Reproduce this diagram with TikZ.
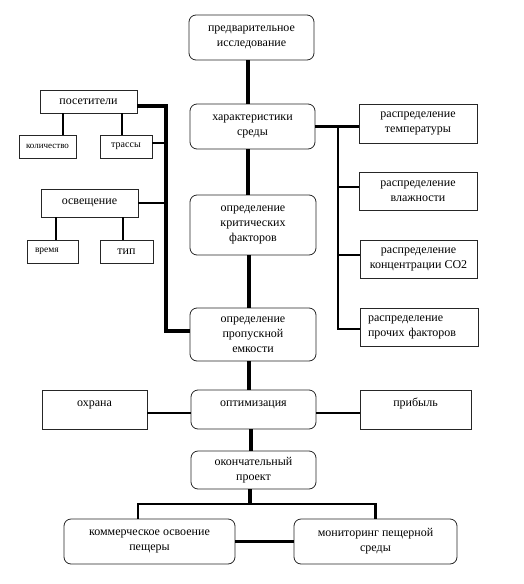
\documentclass[tikz,border=0pt]{standalone}
\usepackage{fontspec}
\setmainfont{Liberation Serif}
\begin{document}
\begin{tikzpicture}[x=1pt,y=-1pt,
  box/.style={draw=black!85,line width=0.8pt,inner sep=0pt,align=center,font=\fontsize{12}{15}\selectfont},
  rbox/.style={box,rounded corners=7pt},
  sbox/.style={box},
  uptext/.style={text height=8pt,text depth=14pt},
  thin/.style={line width=2pt},
  med/.style={line width=2.8pt},
  thick/.style={line width=4pt}]
\useasboundingbox (0,0) rectangle (524,584);
% central column
\node[rbox,minimum width=125pt,minimum height=45pt] (pre) at (251.5,37.5) {предварительное\\исследование};
\node[rbox,minimum width=125pt,minimum height=45pt] (har) at (252.5,126.5) {характеристики\\среды};
\node[rbox,minimum width=126pt,minimum height=60pt] (krit) at (253,225) {определение\\критических\\факторов};
\node[rbox,minimum width=126pt,minimum height=53pt] (prop) at (253,334.5) {определение\\пропускной\\емкости};
\node[rbox,uptext,minimum width=125pt,minimum height=39pt] (opt) at (253.5,409.5) {оптимизация};
\node[rbox,minimum width=125pt,minimum height=38pt] (okon) at (253.5,470) {окончательный\\проект};
\node[rbox,minimum width=171pt,minimum height=45pt] (kom) at (149.5,541.5) {коммерческое освоение\\пещеры};
\node[rbox,minimum width=163pt,minimum height=45pt] (mon) at (375.5,541.5) {мониторинг пещерной\\среды};
\node[sbox,uptext,minimum width=105pt,minimum height=39pt] (ohr) at (94.5,409.5) {охрана};
\node[sbox,uptext,minimum width=111pt,minimum height=39pt] (prib) at (415.5,409.5) {прибыль};
% left group
\node[sbox,minimum width=97pt,minimum height=23pt] (pos) at (88.5,101.5) {посетители};
\node[sbox,minimum width=57pt,minimum height=23pt,font=\fontsize{9}{11}\selectfont] (kol) at (47.5,146.5) {количество};
\node[sbox,minimum width=52pt,minimum height=23pt,font=\fontsize{10}{12}\selectfont] (tras) at (126,146.5) {трассы};
\node[sbox,minimum width=97pt,minimum height=28pt] (osv) at (89.5,203) {освещение};
\node[sbox,minimum width=51pt,minimum height=23pt,text width=35pt,inner xsep=8pt,align=left,font=\fontsize{9.5}{11}\selectfont] (vrem) at (52.5,251.5) {время};
\node[sbox,minimum width=53pt,minimum height=23pt] (tip) at (126.5,251.5) {тип};
% right group
\node[sbox,minimum width=118pt,minimum height=39pt] (r1) at (418,123.5) {распределение\\температуры};
\node[sbox,minimum width=118pt,minimum height=38pt] (r2) at (418,191) {распределение\\влажности};
\node[sbox,minimum width=117pt,minimum height=38pt] (r3) at (418.5,259) {распределение\\концентрации СО2};
\node[sbox,minimum width=118pt,minimum height=38pt,text width=102pt,inner xsep=8pt,align=left] (r4) at (419,327) {распределение\\прочих факторов};
% coordinates of buses
\coordinate (lt) at (166,106);
\coordinate (lb) at (166,331);
\coordinate (rt) at (338,127);
\coordinate (rb) at (338,329);
\coordinate (bb) at (250,504);
% spine
\draw[thick] ([xshift=-3.5pt]pre.south) -- ([xshift=-3.5pt]pre.south |- har.north);
\draw[thick] ([xshift=-4.5pt]har.south) -- ([xshift=-4.5pt]har.south |- krit.north);
\draw[thick] ([xshift=-4pt]krit.south) -- ([xshift=-4pt]krit.south |- prop.north);
\draw[thick] ([xshift=-4pt]prop.south) -- ([xshift=-4pt]prop.south |- opt.north);
\draw[thick] ([xshift=-2.5pt]opt.south) -- ([xshift=-2.5pt]opt.south |- okon.north);
\draw[thick] ([xshift=-3.5pt]okon.south) -- ([xshift=-3.5pt]okon.south |- bb);
% left bus
\draw[thick] ([yshift=-4.5pt]pos.east) -- (lt) -- (lb) -- ([yshift=3.5pt]prop.west);
\draw[thin] ([yshift=3.5pt]tras.east) -- ([yshift=3.5pt]tras.east -| lt);
\draw[med] (osv.east) -- (osv.east -| lt);
\draw[thin] ([xshift=15.5pt]kol.north) -- ([xshift=15.5pt]kol.north |- pos.south);
\draw[thin] ([xshift=-4pt]tras.north) -- ([xshift=-4pt]tras.north |- pos.south);
\draw[med] ([xshift=3.5pt]vrem.north) -- ([xshift=3.5pt]vrem.north |- osv.south);
\draw[med] ([xshift=-3.5pt]tip.north) -- ([xshift=-3.5pt]tip.north |- osv.south);
% right bus
\draw[med] (har.east) -- (har.east -| r1.west);
\draw[med] (rt) -- (rb) -- (rb -| r4.west);
\draw[med] ([yshift=4pt]r2.west -| rt) -- ([yshift=4pt]r2.west);
\draw[med] ([yshift=4pt]r3.west -| rt) -- ([yshift=4pt]r3.west);
% optimisation row
\draw[med] ([yshift=-3.5pt]ohr.east) -- ([yshift=-3.5pt]opt.west);
\draw[med] ([yshift=-3.5pt]opt.east) -- ([yshift=-3.5pt]prib.west);
% bottom
\draw[med] ([xshift=-11.5pt]kom.north) |- (bb) -| (mon.north);
\draw[med] (kom.east) -- (mon.west);
\end{tikzpicture}
\end{document}
